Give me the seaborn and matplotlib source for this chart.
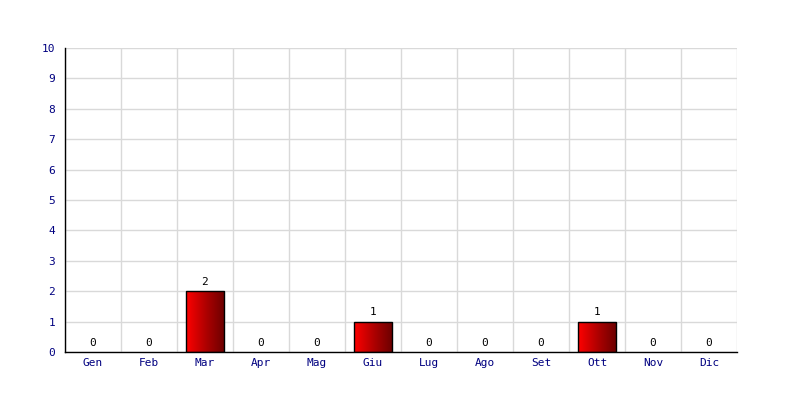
#!/usr/bin/env python3
import numpy as np
import pandas as pd
import seaborn as sns
from matplotlib import pyplot as plt
from matplotlib.colors import LinearSegmentedColormap

months = ["Gen", "Feb", "Mar", "Apr", "Mag", "Giu", "Lug", "Ago", "Set", "Ott", "Nov", "Dic"]
counts = [0, 0, 2, 0, 0, 1, 0, 0, 0, 1, 0, 0]
y_ticks = list(range(0, 11))

NAVY = "#000080"
GRID = "#d9d9d9"


def main():
    sns.set_style("white")
    plt.rcParams['font.family'] = ['DejaVu Sans Mono', 'DejaVu Sans']
    plt.rcParams['font.size'] = 8

    df = pd.DataFrame({"month": months, "count": counts})

    fig = plt.figure(figsize=(8, 4), dpi=100)
    ax = fig.add_axes([65 / 800, 48 / 400, 672 / 800, 304 / 400])

    sns.barplot(data=df, x="month", y="count", order=months, width=0.69,
                color="red", edgecolor="black", linewidth=1, ax=ax, zorder=3)

    # paint a left-to-right red gradient inside every bar
    cmap = LinearSegmentedColormap.from_list("redgrad", ["#ff0000", "#b00000", "#6a0000"])
    grad = np.linspace(0, 1, 256).reshape(1, -1)
    for patch in ax.patches:
        h = patch.get_height()
        if h <= 0:
            patch.set_visible(False)
            continue
        x0 = patch.get_x()
        w = patch.get_width()
        patch.set_facecolor("none")
        im = ax.imshow(grad, cmap=cmap, aspect="auto", extent=(x0, x0 + w, 0, h),
                       zorder=2.9, interpolation="bilinear")
        im.set_clip_path(patch)

    for i, v in enumerate(counts):
        ax.annotate(str(v), (i, v), xytext=(0, 3), textcoords="offset points",
                    ha="center", va="bottom", fontsize=8, color="black")

    ax.set_xlim(-0.5, len(months) - 0.5)
    ax.set_ylim(0, 10)
    ax.set_yticks(y_ticks)
    ax.set_xticks(range(len(months)))
    ax.set_xticklabels(months)
    ax.set_xticks(np.arange(-0.5, len(months), 1), minor=True)

    ax.grid(False)
    ax.grid(True, axis="y", which="major", color=GRID, lw=1, zorder=0)
    ax.grid(True, axis="x", which="minor", color=GRID, lw=1, zorder=0)
    ax.set_axisbelow(True)

    ax.tick_params(axis="both", which="both", length=0, colors=NAVY, labelsize=8)
    ax.tick_params(axis="x", pad=4)
    ax.tick_params(axis="y", pad=7)
    ax.set_xlabel("")
    ax.set_ylabel("")

    for side in ["top", "right"]:
        ax.spines[side].set_visible(False)
    for side in ["left", "bottom"]:
        ax.spines[side].set_color("black")
        ax.spines[side].set_linewidth(1)
        ax.spines[side].set_zorder(5)

    fig.savefig("out.png", dpi=100)
    plt.close(fig)


if __name__ == "__main__":
    main()
